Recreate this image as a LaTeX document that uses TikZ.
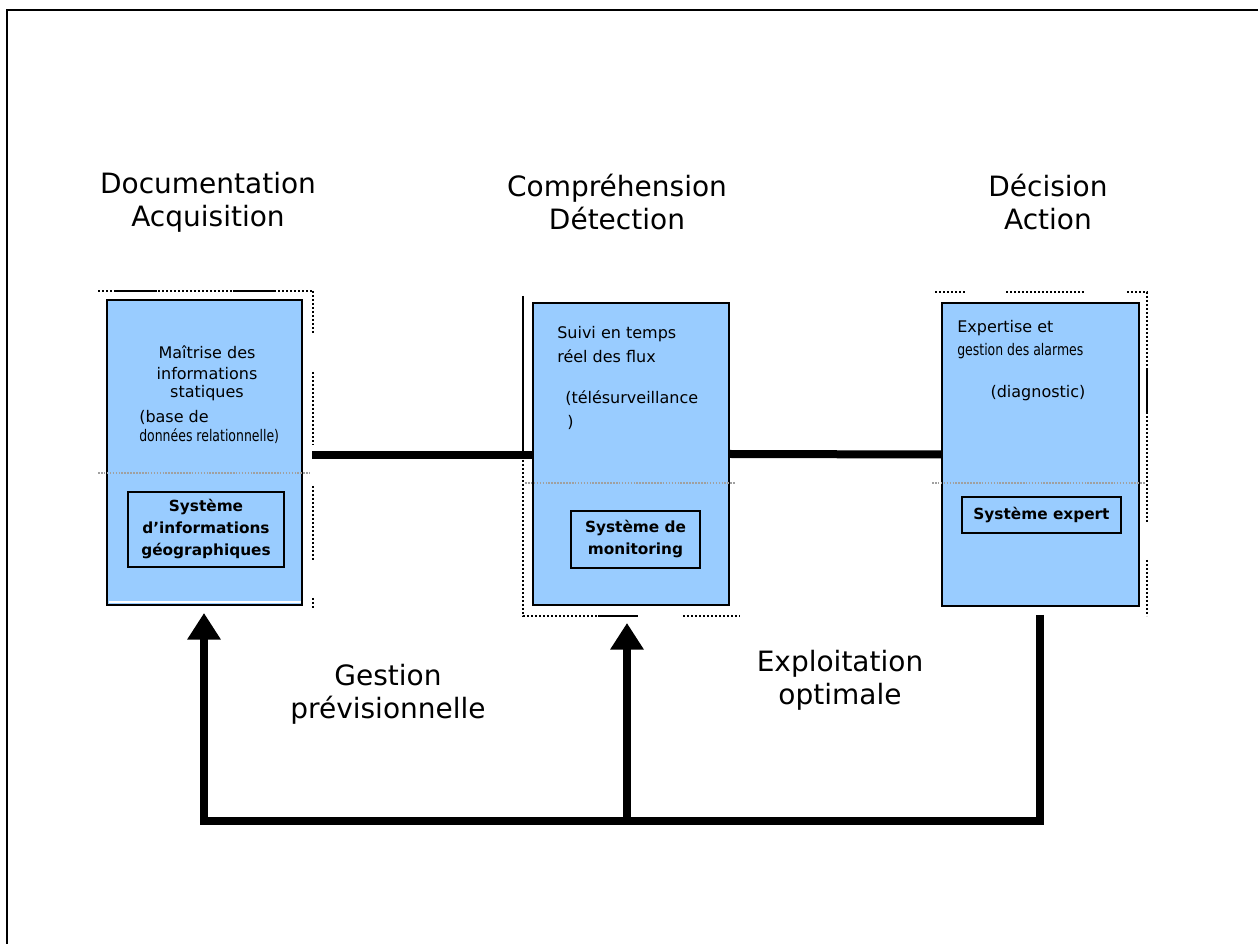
\documentclass[tikz,border=0pt]{standalone}
\usepackage{fontspec}
\setmainfont{DejaVu Sans}
\newfontfamily\narrowfont[FakeStretch=0.78]{DejaVu Sans}
\usetikzlibrary{arrows.meta}
\definecolor{paleblue}{RGB}{153,204,255}
\definecolor{sepgrey}{RGB}{160,160,160}
\tikzset{
  bluebox/.style={draw=black, line width=1.6pt, fill=paleblue, inner sep=0pt},
  innerbox/.style={draw=black, line width=1.6pt, fill=paleblue, inner sep=0pt,
    align=center, font=\fontsize{11.5}{16.5}\selectfont\bfseries},
  heading/.style={align=center, font=\fontsize{21}{25}\selectfont},
  boxtext/.style={font=\fontsize{12}{15}\selectfont, inner sep=0pt},
  flow/.style={line width=5.8pt, line join=miter},
  link/.style={line width=6pt},
  bigtip/.style={-{Triangle[width=24pt,length=20pt]}},
  dotline/.style={line width=1.6pt, dash pattern=on 1.6pt off 1.4pt},
  solidline/.style={line width=1.6pt},
  sepline/.style={sepgrey, line width=0.8pt, dash pattern=on 1.2pt off 1pt},
}
\begin{document}
\begin{tikzpicture}[x=0.75pt, y=-0.75pt]
\useasboundingbox (0,0) rectangle (1258,944);

% outer frame (top and left edges only)
\draw[line width=1.5pt] (7,944) -- (7,10) -- (1258,10);

% column headings
\node[heading] (h1) at (208,202) {Documentation\\Acquisition};
\node[heading] (h2) at (617,202) {Compréhension\\Détection};
\node[heading] (h3) at (1048,202) {Décision\\Action};

% selection-frame fragments around the three blocks
\draw[dotline] (98,291) -- (312,291);
\draw[solidline] (115,291) -- (157,291) (233,291) -- (275,291);
\draw[dotline] (313,291) -- (313,333) (313,372) -- (313,445)
               (313,486) -- (313,560) (313,598) -- (313,608);
\draw[solidline] (523,296) -- (523,452);
\draw[dotline] (523,452) -- (523,616) -- (598,616) (683,616) -- (740,616);
\draw[solidline] (598,616) -- (638,616);
\draw[dotline] (935,292) -- (965,292) (1006,292) -- (1085,292)
               (1127,292) -- (1147,292) -- (1147,370)
               (1147,412) -- (1147,523) (1147,560) -- (1147,616);
\draw[solidline] (1147,370) -- (1147,412);

% blocks and the horizontal links between them
\coordinate (c1) at (312,455);
\node[bluebox, minimum width=146.25pt, minimum height=228.75pt] (b1) at (204.5,452.5) {};
\node[bluebox, minimum width=147pt, minimum height=226.5pt] (b2) at (631,454) {};
\node[bluebox, minimum width=147.75pt, minimum height=227.25pt] (b3) at (1040.5,454.5) {};
\draw[link] (c1) -- (c1 -| b2.west);
\draw[link] (b2.east) -- (b3.west);
\draw[white, line width=1.5pt] (108.5,602) -- (300.5,602);

% separators inside the blocks
\draw[sepline] (98,473) -- (310,473);
\draw[sepline] (525,483) -- (735,483);
\draw[sepline] (932,483) -- (1146,483);

% block 1
\node[boxtext, align=center] (t1) at (207,373)
  {Maîtrise des\\[1pt]informations\\[-2pt]statiques};
\node[boxtext, anchor=west] (t1b) at (139,417) {(base de};
\node[boxtext, anchor=west, font=\narrowfont\fontsize{12}{15}\selectfont] (t1c) at (139,436) {données relationnelle)};
\node[innerbox, minimum width=117pt, minimum height=56.25pt] (s1) at (206,529.5)
  {Système\\d’informations\\géographiques};

% block 2
\node[boxtext, anchor=west] (t2a) at (557,334) {Suivi en temps};
\node[boxtext, anchor=west] (t2b) at (557,356) {réel des flux};
\node[boxtext, anchor=west] (t2c) at (565,398) {(télésurveillance};
\node[boxtext, anchor=west] (t2d) at (567,422) {)};
\node[innerbox, minimum width=96.75pt, minimum height=42.75pt] (s2) at (635.5,539.5)
  {Système de\\monitoring};

% block 3
\node[boxtext, anchor=west] (t3a) at (957,328) {Expertise et};
\node[boxtext, anchor=west, font=\narrowfont\fontsize{12}{15}\selectfont] (t3b) at (957,351) {gestion des alarmes};
\node[boxtext] (t3c) at (1038,393) {(diagnostic)};
\node[innerbox, minimum width=119.25pt, minimum height=27pt] (s3) at (1041.5,515)
  {Système expert};

% feedback loop
\coordinate (r0) at (1040,615);
\coordinate (rb) at (1040,821);
\coordinate (lb) at (204,821);
\coordinate (a1) at (204,613);
\coordinate (m0) at (627,821);
\coordinate (a2) at (627,623);
\draw[flow, bigtip] (r0) -- (rb) -- (lb) -- (a1);
\draw[flow, bigtip] (m0) -- (a2);

% loop labels
\node[heading] (g1) at (388,694) {Gestion\\prévisionnelle};
\node[heading] (g2) at (840,680) {Exploitation\\optimale};
\end{tikzpicture}
\end{document}
